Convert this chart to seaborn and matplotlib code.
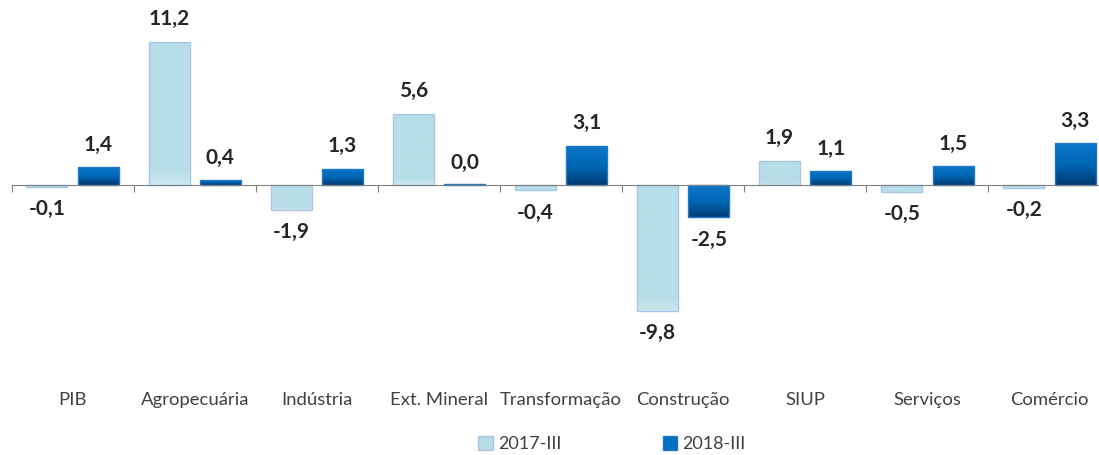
import numpy as np
import pandas as pd
import matplotlib
matplotlib.use('Agg')
import matplotlib.pyplot as plt
import seaborn as sns
from matplotlib.patches import Patch
from matplotlib.colors import LinearSegmentedColormap

categorias = ['PIB', 'Agropecuária', 'Indústria', 'Ext. Mineral', 'Transformação',
              'Construção', 'SIUP', 'Serviços', 'Comércio']
v2017 = [-0.1, 11.2, -1.9, 5.6, -0.4, -9.8, 1.9, -0.5, -0.2]
v2018 = [1.4, 0.4, 1.3, 0.0, 3.1, -2.5, 1.1, 1.5, 3.3]
series = ['2017-III', '2018-III']

df = pd.DataFrame({
    'cat': categorias * 2,
    'valor': v2017 + v2018,
    'serie': [series[0]] * len(v2017) + [series[1]] * len(v2018),
})

sns.set_style('white')
plt.rcParams['font.family'] = ['Lato', 'DejaVu Sans']

fig = plt.figure(figsize=(10.99, 4.55), dpi=100)
ax = fig.add_axes([0.0105, 0.154, 1.0, 0.813])

cores = {'2017-III': '#B7DDE8', '2018-III': '#0070C0'}
sns.barplot(data=df, x='cat', y='valor', hue='serie', palette=cores,
            width=0.84, gap=0.2, legend=False, ax=ax, errorbar=None)

ylo, yhi = -15.6, 13.3

# gradientes nas barras
grad_claro = LinearSegmentedColormap.from_list(
    'c', [(0, '#B7DDE8'), (0.9, '#B8DDE8'), (1, '#CBE7EF')])
grad_escuro = LinearSegmentedColormap.from_list('e', ['#0B78C8', '#0068B5', '#003C75'])
g = np.linspace(0, 1, 100).reshape(-1, 1)
for i, p in enumerate(ax.patches):
    x, y = p.get_x(), p.get_y()
    w, h = p.get_width(), p.get_height()
    if h == 0:
        h = 0.12
        p.set_height(h)
    escuro = i >= len(categorias)
    lo, hi = min(y, y + h), max(y, y + h)
    im = ax.imshow(g, cmap=grad_escuro if escuro else grad_claro, aspect='auto',
                   extent=[x, x + w, lo, hi], origin='upper', zorder=2)
    im.set_clip_path(p)
    p.set_edgecolor('#1F78C8' if escuro else '#A9C6E2')
    p.set_linewidth(1.0)
    p.set_zorder(3)
    p.set_facecolor('none')

ax.set_ylim(ylo, yhi)
ax.set_xlim(-0.5, len(categorias) - 0.5)

# rótulos de dados
for i, p in enumerate(ax.patches):
    vals = v2017 if i < len(categorias) else v2018
    v = vals[i % len(categorias)]
    xc = p.get_x() + p.get_width() / 2
    txt = f'{v:.1f}'.replace('.', ',')
    if v >= 0:
        ax.annotate(txt, (xc, v), xytext=(0, 9), textcoords='offset points',
                    ha='center', va='bottom', fontsize=15, fontweight='bold', color='#262626')
    else:
        ax.annotate(txt, (xc, v), xytext=(0, -9), textcoords='offset points',
                    ha='center', va='top', fontsize=15, fontweight='bold', color='#262626')

# eixo no zero
for s in ['top', 'right', 'left']:
    ax.spines[s].set_visible(False)
ax.spines['bottom'].set_position(('data', 0))
ax.spines['bottom'].set_color('#808080')
ax.spines['bottom'].set_zorder(4)
ax.set_yticks([])
ax.set_xticks(np.arange(-0.5, len(categorias), 1.0))
ax.set_xticklabels([])
ax.tick_params(axis='x', direction='out', length=5, color='#808080', bottom=True)
ax.set_xlabel('')
ax.set_ylabel('')

for i, c in enumerate(categorias):
    ax.text(i, -0.02, c, transform=ax.get_xaxis_transform(), ha='center', va='top',
            fontsize=13.3, color='#404040')

handles = [Patch(facecolor='#B7DDE8', edgecolor='#A9C6E2'),
           Patch(facecolor='#0070C0', edgecolor='#1F78C8')]
fig.legend(handles, series, loc='center', bbox_to_anchor=(0.557, 0.024), ncol=2,
           frameon=False, fontsize=13, handlelength=0.8, handleheight=0.8,
           handletextpad=0.3, columnspacing=5.6, labelcolor='#404040')

fig.savefig('out.png', dpi=100)
